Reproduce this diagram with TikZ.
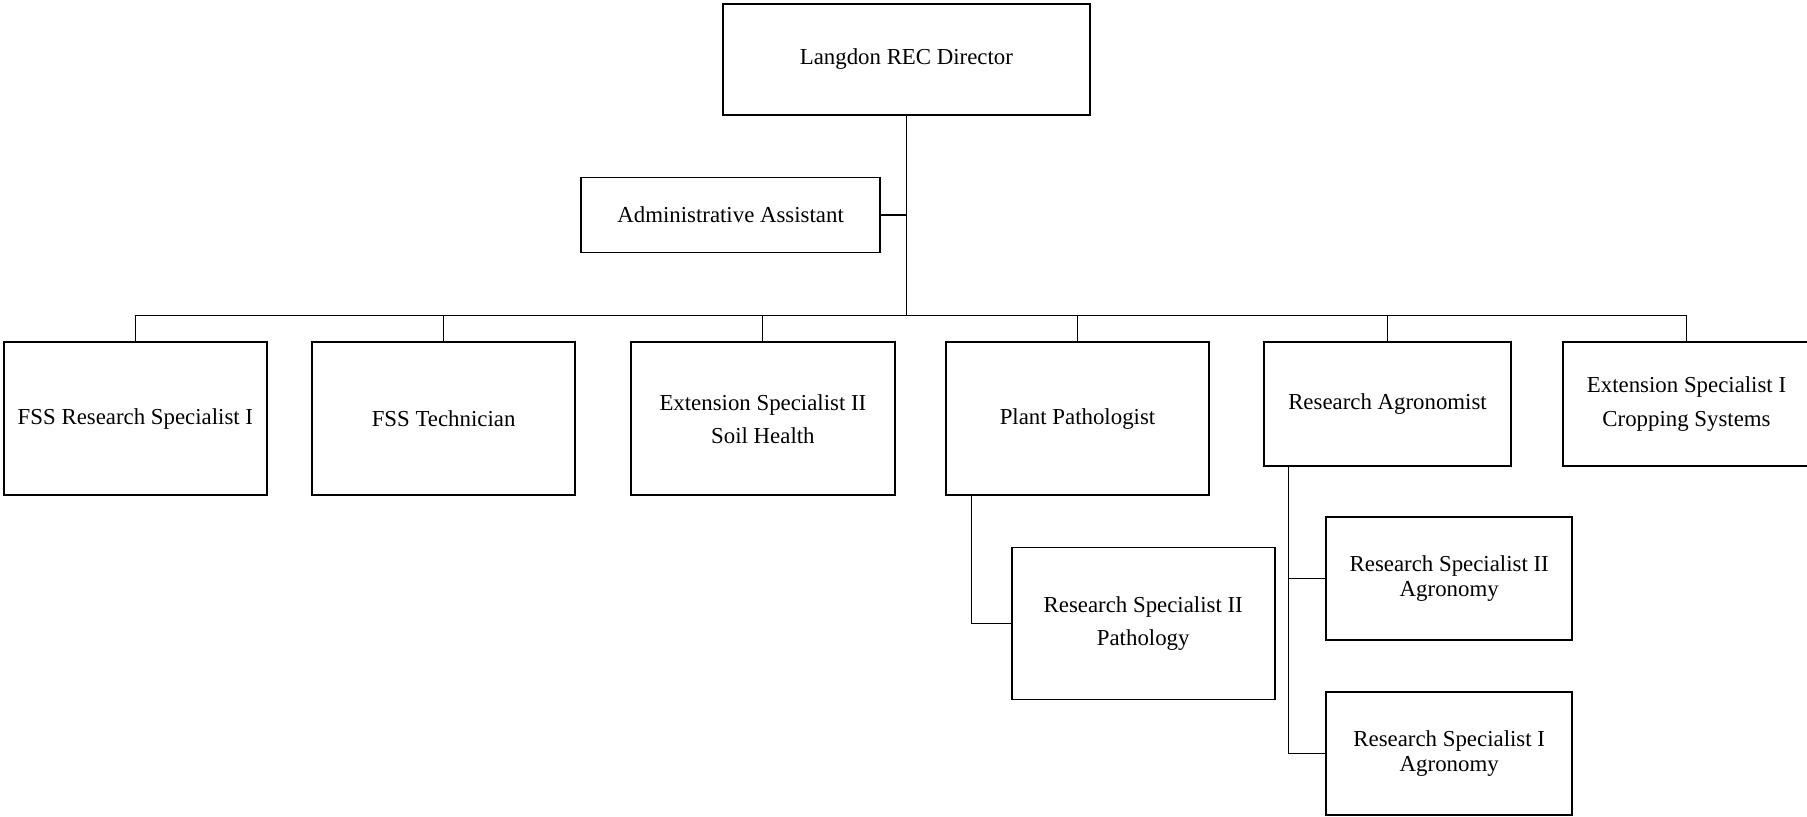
\documentclass[tikz,border=0pt]{standalone}
\usepackage{fontspec}
\setmainfont{Liberation Serif}
\usepackage{tikz}
\usetikzlibrary{positioning}

\begin{document}
\begin{tikzpicture}[
    x=0.02cm, y=-0.02cm,
    post/.style={rectangle, draw, line width=1.1pt, align=center, inner sep=2pt, font=\fontsize{13}{19}\selectfont},
    rowpost/.style={post, minimum width=5.27cm, minimum height=3.06cm},
    smallpost/.style={post, minimum width=4.92cm, minimum height=2.46cm, font=\fontsize{13}{14}\selectfont},
    conn/.style={line width=0.6pt}
]
\useasboundingbox (0,0) rectangle (1807,817);

%% ─────────────────────────────────────────────────────────────────────
%% Positions are centres in pixels of the 1807 x 817 page
%% ─────────────────────────────────────────────────────────────────────

%% ── Director and assistant ───────────────────────────────────────────
\node[post, minimum width=7.35cm, minimum height=2.23cm] (director) at (906.4, 59.4) {Langdon REC Director};
\node[post, minimum width=5.99cm, minimum height=1.50cm] (admin)    at (730.6, 215)  {Administrative Assistant};

%% ── First row ────────────────────────────────────────────────────────
\node[rowpost] (fssrs)     at ( 135.4, 418.9) {FSS Research Specialist I};
\node[rowpost] (fsstech)   at ( 443.6, 418.9) {FSS Technician};
\node[rowpost] (soil)      at ( 762.9, 418.9) {Extension Specialist II\\Soil Health};
\node[rowpost] (pathol)    at (1077.5, 418.9) {Plant Pathologist};
\node[post, minimum width=4.93cm, minimum height=2.47cm] (agron) at (1387.5, 404) {Research Agronomist};
\node[post, minimum width=4.93cm, minimum height=2.47cm] (crop)  at (1686.5, 404) {Extension Specialist I\\Cropping Systems};

%% ── Second level ─────────────────────────────────────────────────────
\node[rowpost, minimum width=5.26cm, minimum height=3.04cm] (rspath) at (1143.2, 623.5) {Research Specialist II\\Pathology};
\node[smallpost] (rsagrii) at (1449.2, 578.5) {Research Specialist II\\Agronomy};
\node[smallpost] (rsagri)  at (1449.2, 753.7) {Research Specialist I\\Agronomy};

%% ── Connectors ───────────────────────────────────────────────────────
\coordinate (trunk) at (906.4, 315.8);

%% Director down to the bus, assistant off the side
\draw[conn] (director.south) -- (trunk);
\draw[conn] (admin.east) -- (admin.east -| director.south);

%% Bus to each first-row post
\foreach \n in {fssrs, fsstech, soil, pathol, agron, crop}
  \draw[conn] (trunk) -| (\n.north);

%% Plant Pathologist to its specialist
\draw[conn] ([xshift=0.53cm]pathol.south west) |- (rspath.west);

%% Research Agronomist to its specialists
\draw[conn] ([xshift=0.51cm]agron.south west) |- (rsagri.west);
\draw[conn] ([xshift=0.51cm]agron.south west |- rsagrii.west) -- (rsagrii.west);

\end{tikzpicture}
\end{document}
